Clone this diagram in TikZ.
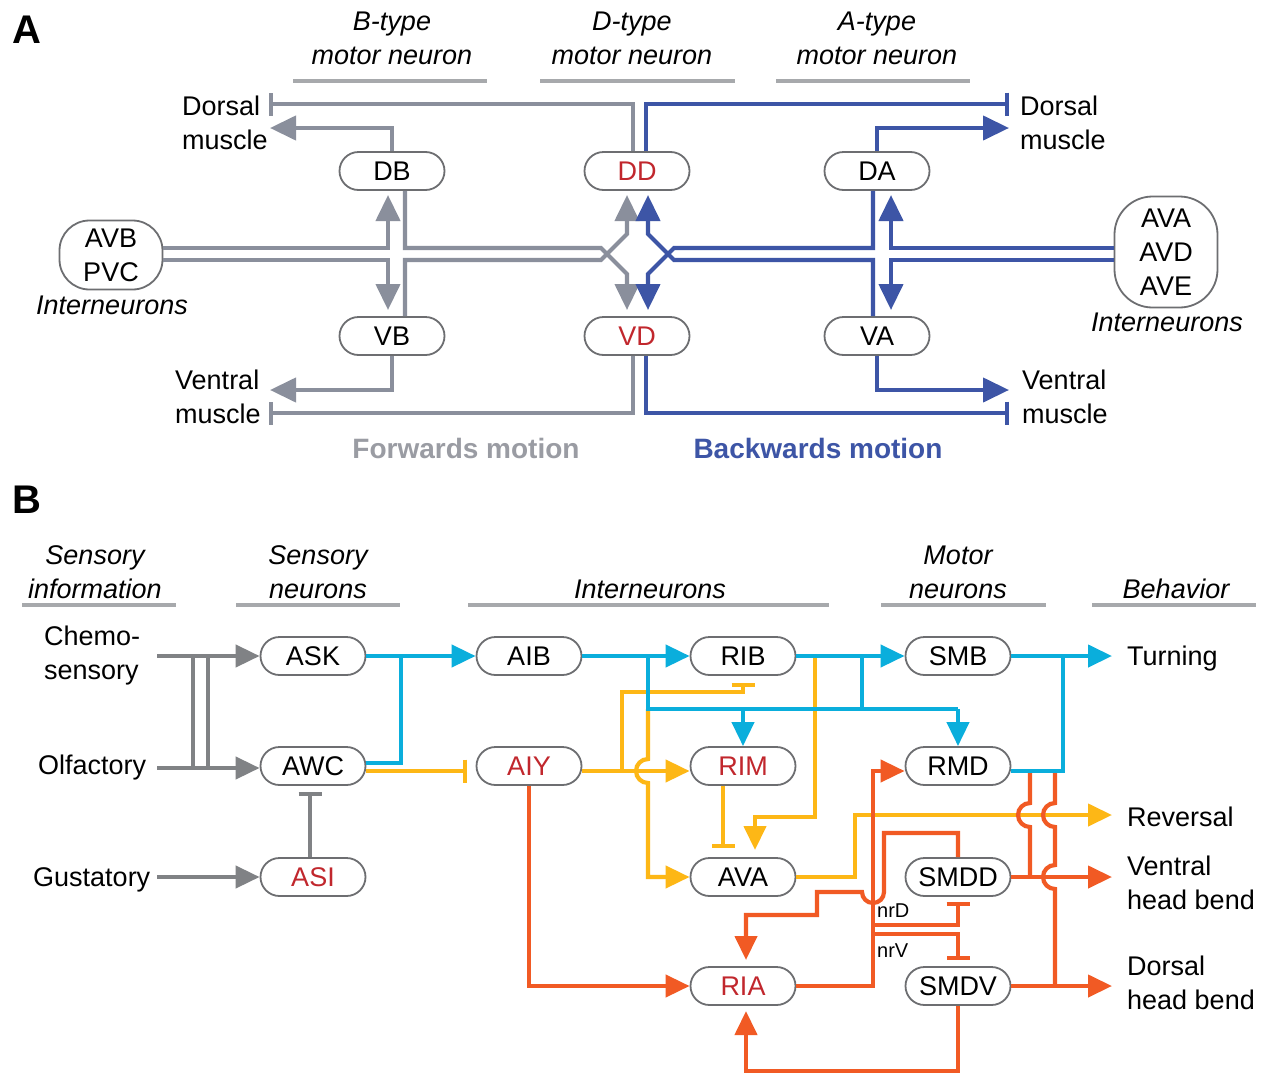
\documentclass[tikz,border=0pt]{standalone}
\usepackage{fontspec}
\setmainfont{Liberation Sans}
\usetikzlibrary{arrows.meta}
\definecolor{ga}{HTML}{8A8F9C}
\definecolor{bl}{HTML}{3D55A6}
\definecolor{nb}{HTML}{6D6E71}
\definecolor{rd}{HTML}{C1272D}
\definecolor{cy}{HTML}{0AAEDC}
\definecolor{yl}{HTML}{FDB716}
\definecolor{org}{HTML}{F15A24}
\definecolor{gb}{HTML}{808285}
\definecolor{ul}{HTML}{A7A9AC}
\definecolor{fw}{HTML}{9A9CA3}
\begin{document}
\begin{tikzpicture}[x=1pt,y=-1pt,
  neuron/.style={draw=nb, line width=1.8pt, fill=white, rounded corners=19pt, minimum width=105pt, minimum height=38pt, inner sep=0pt, font=\fontsize{27}{30}\selectfont},
  lbl/.style={font=\fontsize{27}{34}\selectfont, inner sep=0pt, align=left, anchor=west},
  hdr/.style={font=\fontsize{27}{34}\selectfont\itshape, inner sep=0pt, align=center},
  uline/.style={draw=ul, line width=3.5pt},
  con/.style={line width=4.2pt},
  arr/.style={-{Triangle[length=26pt,width=24pt]}},
  arrb/.style={-{Triangle[length=24pt,width=22pt]}},
  tee/.style={-{Bar[width=23pt]}},
  panel/.style={font=\fontsize{40}{40}\selectfont\bfseries, inner sep=0pt},
  small/.style={font=\fontsize{20}{22}\selectfont, inner sep=0pt, anchor=west}
 ]
\useasboundingbox[fill=white] (0,0) rectangle (1270,1074);

% ================= Panel A =================
\node[panel] (pA) at (27,30) {A};
\node[hdr] (hB) at (392,38) {B-type\\motor neuron};
\node[hdr] (hD) at (632,38) {D-type\\motor neuron};
\node[hdr] (hA) at (877,38) {A-type\\motor neuron};
\draw[uline] (293,81) -- (487,81);
\draw[uline] (540,81) -- (735,81);
\draw[uline] (776,81) -- (970,81);

\node[neuron] (DB) at (392,171) {DB};
\node[neuron] (VB) at (392,336) {VB};
\node[neuron, text=rd] (DD) at (637,171) {DD};
\node[neuron, text=rd] (VD) at (637,336) {VD};
\node[neuron] (DA) at (877,171) {DA};
\node[neuron] (VA) at (877,336) {VA};
\node[neuron, rounded corners=30pt, minimum width=103pt, minimum height=69pt, align=center, font=\fontsize{27}{34}\selectfont] (AVB) at (111,255) {AVB\\PVC};
\node[neuron, rounded corners=38pt, minimum width=103pt, minimum height=111pt, align=center, font=\fontsize{27}{34}\selectfont] (AVA3) at (1166,252) {AVA\\AVD\\AVE};
\node[hdr] (iL) at (112,305) {Interneurons};
\node[hdr] (iR) at (1167,322) {Interneurons};

\node[lbl] (dmL) at (182,123) {Dorsal\\muscle};
\node[lbl] (dmR) at (1020,123) {Dorsal\\muscle};
\node[lbl] (vmL) at (175,397) {Ventral\\muscle};
\node[lbl] (vmR) at (1022,397) {Ventral\\muscle};
\coordinate (dmLt) at (269,104);
\coordinate (dmLa) at (270,128);
\coordinate (dmRt) at (1009,104);
\coordinate (dmRa) at (1009,128);
\coordinate (vmLt) at (269,413);
\coordinate (vmLa) at (270,390);
\coordinate (vmRt) at (1009,413);
\coordinate (vmRa) at (1009,390);

\node[font=\fontsize{28}{30}\selectfont\bfseries, text=fw, inner sep=0pt] (fwd) at (466,448) {Forwards motion};
\node[font=\fontsize{28}{30}\selectfont\bfseries, text=bl, inner sep=0pt] (bwd) at (818,448) {Backwards motion};

% gray (forwards)
\draw[con,ga,tee] ([xshift=-4pt]DD.north) -- (633,104) -- (dmLt);
\draw[con,ga,arr] (DB.north) -- (392,128) -- (dmLa);
\draw[con,ga,arr] (VB.south) -- (392,390) -- (vmLa);
\draw[con,ga,tee] ([xshift=-4pt]VD.south) -- (633,413) -- (vmLt);
\draw[con,ga,arr] (AVB.east |- 0,248) -- (388,248) -- (388,195);
\draw[con,ga,arr] (AVB.east |- 0,260) -- (388,260) -- (388,310);
\draw[con,ga,arr] ([xshift=13pt]DB.south) -- (405,248) -- (601,248) -- (627,274) -- (627,310);
\draw[con,ga,arr] ([xshift=13pt]VB.north) -- (405,260) -- (601,260) -- (627,234) -- (627,195);
% blue (backwards)
\draw[con,bl,tee] ([xshift=9pt]DD.north) -- (646,104) -- (dmRt);
\draw[con,bl,arr] (DA.north) -- (877,128) -- (dmRa);
\draw[con,bl,arr] (VA.south) -- (877,390) -- (vmRa);
\draw[con,bl,tee] ([xshift=9pt]VD.south) -- (646,413) -- (vmRt);
\draw[con,bl,arr] (AVA3.west |- 0,248) -- (891,248) -- (891,195);
\draw[con,bl,arr] (AVA3.west |- 0,260) -- (891,260) -- (891,310);
\draw[con,bl,arr] ([xshift=-4pt]DA.south) -- (873,248) -- (674,248) -- (648,274) -- (648,310);
\draw[con,bl,arr] ([xshift=-4pt]VA.north) -- (873,260) -- (674,260) -- (648,234) -- (648,195);

% ================= Panel B =================
\node[panel] (pB) at (27,500) {B};
\node[hdr] (h1) at (95,572) {Sensory\\information};
\node[hdr] (h2) at (318,572) {Sensory\\neurons};
\node[hdr] (h3) at (650,589) {Interneurons};
\node[hdr] (h4) at (958,572) {Motor\\neurons};
\node[hdr] (h5) at (1176,589) {Behavior};
\draw[uline] (22,605) -- (176,605);
\draw[uline] (236,605) -- (400,605);
\draw[uline] (468,605) -- (829,605);
\draw[uline] (881,605) -- (1046,605);
\draw[uline] (1092,605) -- (1256,605);

\node[neuron] (ASK) at (313,656) {ASK};
\node[neuron] (AWC) at (313,766) {AWC};
\node[neuron, text=rd] (ASI) at (313,877) {ASI};
\node[neuron] (AIB) at (529,656) {AIB};
\node[neuron, text=rd] (AIY) at (529,766) {AIY};
\node[neuron] (RIB) at (743,656) {RIB};
\node[neuron, text=rd] (RIM) at (743,766) {RIM};
\node[neuron] (AVA) at (743,877) {AVA};
\node[neuron, text=rd] (RIA) at (743,986) {RIA};
\node[neuron] (SMB) at (958,656) {SMB};
\node[neuron] (RMD) at (958,766) {RMD};
\node[neuron] (SMDD) at (958,877) {SMDD};
\node[neuron] (SMDV) at (958,986) {SMDV};

\node[lbl] (chem) at (44,656) {Chemo-\\sensory};
\node[lbl] (olf) at (38,768) {Olfactory};
\node[lbl] (gus) at (33,880) {Gustatory};
\node[lbl] (turn) at (1127,659) {Turning};
\node[lbl] (rev) at (1127,817) {Reversal};
\node[lbl] (vhb) at (1127,883) {Ventral\\head bend};
\node[lbl] (dhb) at (1127,983) {Dorsal\\head bend};
\node[small] (nrD) at (877,911) {nrD};
\node[small] (nrV) at (877,951) {nrV};

\coordinate (c1) at (157,656);
\coordinate (c2) at (157,768);
\coordinate (c3) at (157,877);
\coordinate (tTurn) at (1112,656);
\coordinate (tRev) at (1112,815);
\coordinate (tVhb) at (1112,877);
\coordinate (tDhb) at (1112,986);

% gray sensory inputs
\draw[con,gb,arrb] (c1) -- (ASK.west);
\draw[con,gb,arrb] (c2) -- (AWC.west |- c2);
\draw[con,gb,arrb] (c3) -- (ASI.west);
\draw[con,gb] (193,656) -- (193,768);
\draw[con,gb] (208,656) -- (208,768);
\draw[con,gb,tee] (310,0 |- ASI.north) -- (310,792);

% yellow
\draw[con,yl,tee] ([yshift=-5pt]AWC.east) -- (467,771);
\draw[con,yl,arrb] ([yshift=-5pt]AIY.east) -- ([yshift=-5pt]RIM.west);
\draw[con,yl,tee] (622,771) -- (622,692) -- (743,692) -- (743,683);
\draw[con,yl,arrb] (648,709) -- (648,759) arc[start angle=90,end angle=270,radius=12pt] -- (648,877) -- (AVA.west);
\draw[con,yl,tee] ([xshift=-20pt]RIM.south) -- (723,848);
\draw[con,yl,arrb] (815,656) -- (815,817) -- (755,817) -- (755,850);
\draw[con,yl,arrb] (AVA.east) -- (855,877) -- (855,815) -- (tRev);

% cyan
\draw[con,cy,arrb] (ASK.east) -- (AIB.west);
\draw[con,cy] ([yshift=3pt]AWC.east) -- (401,763) -- (401,656);
\draw[con,cy,arrb] (AIB.east) -- (RIB.west);
\draw[con,cy] (648,656) -- (648,709) -- (958,709);
\draw[con,cy] (862,656) -- (862,709);
\draw[con,cy,arrb] (743,709) -- (RIM.north);
\draw[con,cy,arrb] (958,709) -- (RMD.north);
\draw[con,cy,arrb] (RIB.east) -- (SMB.west);
\draw[con,cy,arrb] (SMB.east) -- (tTurn);

% orange
\draw[con,org,arrb] (AIY.south) -- (529,986) -- (RIA.west);
\draw[con,org,arrb] (RIA.east) -- (873,986) -- (873,771) -- ([yshift=-5pt]RMD.west);
\draw[con,org,tee] (873,925) -- (958,925) -- (958,902);
\draw[con,org,tee] (873,934) -- (958,934) -- (958,960);
\draw[con,org,arrb] (SMDD.north) -- (958,833) -- (884,833) -- (884,892) arc[start angle=0,end angle=-180,radius=11pt] -- (817,892) -- (817,915) -- (746,915) -- (746,960);
\draw[con,org,arrb] (SMDV.south) -- (958,1071) -- (746,1071) -- (746,1011);
\draw[con,org,arrb] (SMDD.east) -- (tVhb);
\draw[con,org,arrb] (SMDV.east) -- (tDhb);
\draw[con,org] (1030,773) -- (1030,803) arc[start angle=90,end angle=270,radius=12pt] -- (1030,877);
\draw[con,org] (1055,773) -- (1055,803) arc[start angle=90,end angle=270,radius=12pt] -- (1055,865) arc[start angle=90,end angle=270,radius=12pt] -- (1055,986);
\draw[con,cy] ([yshift=-5pt]RMD.east) -- (1063,771) -- (1063,656);
\end{tikzpicture}
\end{document}
